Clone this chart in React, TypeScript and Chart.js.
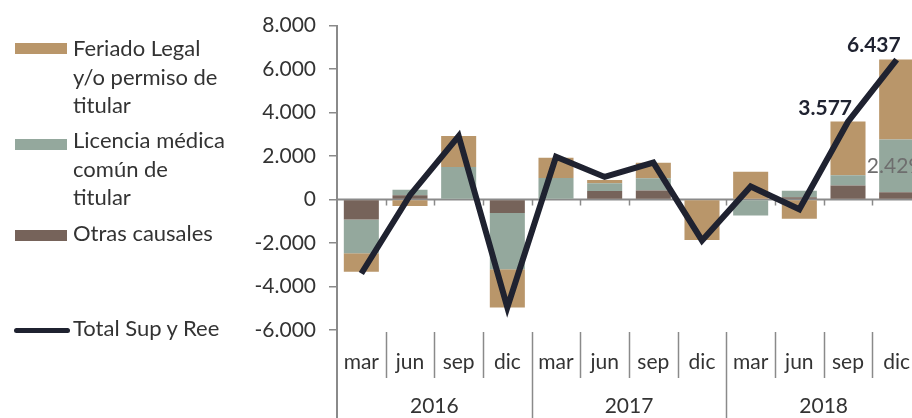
import React, { useEffect, useRef } from "react";
import { Chart, registerables } from "chart.js";

Chart.register(...registerables);

// ---- data ----
const months = ["mar", "jun", "sep", "dic", "mar", "jun", "sep", "dic", "mar", "jun", "sep", "dic"];
const years = ["2016", "2017", "2018"];
const monthsPerYear = 4;
const feriado = [-850, -300, 1420, -1750, 930, 155, 710, -1860, 1280, -880, 2480, 3680];
const licencia = [-1550, 250, 1500, -2590, 990, 355, 560, 0, -730, 300, 465, 2429];
const otras = [-920, 200, 0, -620, 0, 390, 420, 0, 0, 100, 650, 330];
const total = [-3400, 200, 2920, -4960, 1970, 1040, 1700, -1880, 600, -450, 3577, 6437];
const totalLabelIdx = [10, 11];
const licenciaLabelIdx = [11];
const yMin = -6000;
const yMax = 8000;
const yStep = 2000;

// ---- style ----
const C_FERIADO = "#b9966a";
const C_LICENCIA = "#94a89d";
const C_OTRAS = "#76635a";
const C_TOTAL = "#1f2230";
const C_AXIS = "#8a8a8a";
const C_TEXT = "#333333";
const FONT = "Lato, 'Open Sans', sans-serif";

const fmt = (v: number) => {
  const neg = v < 0;
  const s = String(Math.abs(Math.round(v)));
  const out = s.replace(/\B(?=(\d{3})+(?!\d))/g, ".");
  return (neg ? "-" : "") + out;
};

const xAxisPlugin = {
  id: "multiLevelX",
  beforeDatasetsDraw(chart: any) {
    const { ctx, chartArea, scales } = chart;
    const x = scales.x;
    const y = scales.y;
    const y0 = y.getPixelForValue(0);
    const cw = x.getPixelForValue(1) - x.getPixelForValue(0);
    ctx.save();
    ctx.strokeStyle = C_AXIS;
    ctx.lineWidth = 2;
    ctx.beginPath();
    ctx.moveTo(chartArea.left, y0);
    ctx.lineTo(chartArea.right, y0);
    ctx.stroke();
    ctx.lineWidth = 1.5;
    ctx.beginPath();
    for (let i = 1; i <= months.length; i++) {
      const bx = Math.round(x.getPixelForValue(i) - cw / 2) + 0.5;
      ctx.moveTo(bx, y0);
      ctx.lineTo(bx, y0 + 6);
    }
    ctx.stroke();
    ctx.restore();
  },
  afterDraw(chart: any) {
    const { ctx, chartArea, scales } = chart;
    const x = scales.x;
    const cw = x.getPixelForValue(1) - x.getPixelForValue(0);
    const H = chart.height;
    ctx.save();
    ctx.strokeStyle = C_AXIS;
    ctx.lineWidth = 2;
    ctx.beginPath();
    ctx.moveTo(chartArea.left, chartArea.bottom);
    ctx.lineTo(chartArea.left, H);
    ctx.stroke();
    ctx.lineWidth = 1.5;
    ctx.beginPath();
    for (let i = 1; i <= months.length; i++) {
      const bx = Math.round(x.getPixelForValue(i) - cw / 2) + 0.5;
      const isYear = i % monthsPerYear === 0;
      ctx.moveTo(bx, chartArea.bottom + 2);
      ctx.lineTo(bx, isYear ? H : chartArea.bottom + 48);
    }
    ctx.stroke();
    ctx.fillStyle = C_TEXT;
    ctx.font = `21px ${FONT}`;
    ctx.textAlign = "center";
    ctx.textBaseline = "middle";
    months.forEach((m, i) => {
      ctx.fillText(m, x.getPixelForValue(i), chartArea.bottom + 32);
    });
    years.forEach((yr, j) => {
      const a = x.getPixelForValue(j * monthsPerYear);
      const b = x.getPixelForValue(j * monthsPerYear + monthsPerYear - 1);
      ctx.fillText(yr, (a + b) / 2, chartArea.bottom + 76);
    });
    ctx.restore();
  },
  afterDatasetsDraw(chart: any) {
    const { ctx, scales } = chart;
    const x = scales.x;
    const y = scales.y;
    ctx.save();
    ctx.fillStyle = C_TOTAL;
    ctx.font = `bold 21px ${FONT}`;
    ctx.textAlign = "right";
    ctx.textBaseline = "middle";
    totalLabelIdx.forEach((i) => {
      const px = x.getPixelForValue(i);
      const py = y.getPixelForValue(total[i]);
      ctx.fillText(fmt(total[i]), px + 4, py - 14);
    });
    ctx.fillStyle = "#6e6e6e";
    ctx.font = `21px ${FONT}`;
    ctx.textAlign = "center";
    licenciaLabelIdx.forEach((i) => {
      const px = x.getPixelForValue(i);
      const base = otras[i] > 0 ? otras[i] : 0;
      const py = y.getPixelForValue(base + licencia[i] / 2);
      ctx.fillText(fmt(licencia[i]), px - 3, py);
    });
    ctx.restore();
  },
};

const legendText: React.CSSProperties = {
  position: "absolute",
  left: 73,
  fontFamily: FONT,
  fontSize: 22,
  lineHeight: "28.5px",
  color: C_TEXT,
  whiteSpace: "nowrap",
};

export default function App() {
  const ref = useRef<HTMLCanvasElement | null>(null);
  useEffect(() => {
    if (!ref.current) return;
    const chart = new Chart(ref.current, {
      type: "bar",
      data: {
        labels: months,
        datasets: [
          { type: "line", label: "Total Sup y Ree", data: total, borderColor: C_TOTAL, backgroundColor: C_TOTAL, borderWidth: 6, pointRadius: 0, tension: 0, order: 0, stack: "total", borderJoinStyle: "miter" } as any,
          { label: "Otras causales", data: otras, backgroundColor: C_OTRAS, order: 1, barPercentage: 0.72, categoryPercentage: 1 },
          { label: "Licencia médica común de titular", data: licencia, backgroundColor: C_LICENCIA, order: 1, barPercentage: 0.72, categoryPercentage: 1 },
          { label: "Feriado Legal y/o permiso de titular", data: feriado, backgroundColor: C_FERIADO, order: 1, barPercentage: 0.72, categoryPercentage: 1 },
        ],
      },
      options: {
        responsive: false,
        animation: false,
        layout: { padding: { left: 0, right: 9, top: 25, bottom: 88 } },
        plugins: { legend: { display: false }, tooltip: { enabled: false } },
        scales: {
          x: { display: false, stacked: true, offset: true },
          y: {
            stacked: true,
            min: yMin,
            max: yMax,
            afterFit: (s: any) => {
              s.width = 337;
            },
            ticks: {
              stepSize: yStep,
              color: C_TEXT,
              font: { family: FONT, size: 21 },
              padding: 13,
              callback: (v: any) => fmt(Number(v)),
            },
            grid: { drawOnChartArea: false, drawTicks: true, tickLength: 8, color: C_AXIS, lineWidth: 1.5 },
            border: { color: C_AXIS, width: 2 },
          },
        },
      },
      plugins: [xAxisPlugin],
    } as any);
    return () => chart.destroy();
  }, []);

  return (
    <div style={{ position: "fixed", left: 0, top: 0, width: 912, height: 418, overflow: "hidden", background: "#fff" }}>
      <canvas ref={ref} width={930} height={418} style={{ position: "absolute", left: 0, top: 0, width: 930, height: 418 }} />
      <div style={{ position: "absolute", left: 15, top: 43, width: 52, height: 11, background: C_FERIADO }} />
      <div style={{ ...legendText, top: 34 }}>
        Feriado Legal
        <br />y/o permiso de
        <br />titular
      </div>
      <div style={{ position: "absolute", left: 15, top: 139, width: 52, height: 11, background: C_LICENCIA }} />
      <div style={{ ...legendText, top: 126 }}>
        Licencia médica
        <br />común de
        <br />titular
      </div>
      <div style={{ position: "absolute", left: 15, top: 230, width: 52, height: 11, background: C_OTRAS }} />
      <div style={{ ...legendText, top: 219 }}>Otras causales</div>
      <div style={{ position: "absolute", left: 14, top: 328, width: 56, height: 5, borderRadius: 3, background: C_TOTAL }} />
      <div style={{ ...legendText, top: 314 }}>Total Sup y Ree</div>
    </div>
  );
}
